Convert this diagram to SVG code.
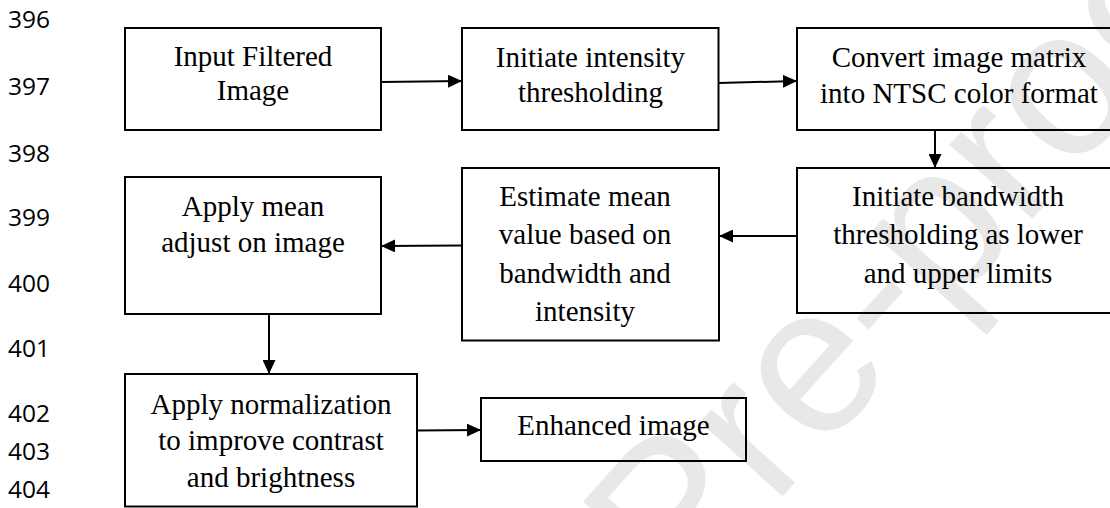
<svg xmlns="http://www.w3.org/2000/svg" width="1110" height="508" viewBox="0 0 1110 508">
<style>
.bg{fill:#ffffff}
.box{fill:none;stroke:#000;stroke-width:2}
.lbl{font-family:"Liberation Serif","Times New Roman",serif;font-size:29px;fill:#000;text-anchor:middle}
.num{font-family:"Open Sans","Liberation Sans",sans-serif;font-size:24.5px;fill:#000}
.wm{font-family:"Liberation Sans",Arial,sans-serif;font-size:210px;fill:#e8e8e8}
.conn{fill:none;stroke:#000;stroke-width:2}
</style>
<defs>
<marker id="ah" markerUnits="userSpaceOnUse" markerWidth="14" markerHeight="13" refX="14" refY="6.5" orient="auto">
<path d="M0,0 L14,6.5 L0,13 Z" fill="#000"/>
</marker>
</defs>
<rect class="bg" x="0" y="0" width="1110" height="508"/>
<text class="wm" transform="translate(679,611) rotate(-48)">Pre-proof</text>
<g id="line-numbers">
<text class="num" x="8" y="28.3">396</text>
<text class="num" x="8" y="95">397</text>
<text class="num" x="8" y="161.7">398</text>
<text class="num" x="8" y="226">399</text>
<text class="num" x="8" y="291.7">400</text>
<text class="num" x="8" y="356.7">401</text>
<text class="num" x="8" y="421.7">402</text>
<text class="num" x="8" y="460">403</text>
<text class="num" x="8" y="498.3">404</text>
</g>
<g id="connectors">
<line class="conn" x1="381" y1="82" x2="462" y2="81" marker-end="url(#ah)"/>
<line class="conn" x1="718.5" y1="83" x2="797" y2="81" marker-end="url(#ah)"/>
<line class="conn" x1="935" y1="130" x2="935" y2="168" marker-end="url(#ah)"/>
<line class="conn" x1="797" y1="236" x2="719" y2="236" marker-end="url(#ah)"/>
<line class="conn" x1="462" y1="245.5" x2="381" y2="246" marker-end="url(#ah)"/>
<line class="conn" x1="269" y1="314" x2="269" y2="374" marker-end="url(#ah)"/>
<line class="conn" x1="417" y1="430.5" x2="481" y2="430" marker-end="url(#ah)"/>
</g>
<g id="n1">
<rect class="box" x="125" y="28" width="256" height="102"/>
<text class="lbl" x="253" y="66">Input Filtered</text>
<text class="lbl" x="253" y="100">Image</text>
</g>
<g id="n2">
<rect class="box" x="462" y="28" width="256.5" height="102"/>
<text class="lbl" x="590.5" y="67">Initiate intensity</text>
<text class="lbl" x="590.5" y="101.5">thresholding</text>
</g>
<g id="n3">
<rect class="box" x="797" y="28" width="324" height="102"/>
<text class="lbl" x="959" y="66.5">Convert image matrix</text>
<text class="lbl" x="959" y="102.5">into NTSC color format</text>
</g>
<g id="n4">
<rect class="box" x="797" y="168" width="324" height="145"/>
<text class="lbl" x="958" y="205.5">Initiate bandwidth</text>
<text class="lbl" x="958" y="244">thresholding as lower</text>
<text class="lbl" x="958" y="282.5">and upper limits</text>
</g>
<g id="n5">
<rect class="box" x="462" y="168" width="257" height="172.5"/>
<text class="lbl" x="585" y="205.5">Estimate mean</text>
<text class="lbl" x="585" y="244">value based on</text>
<text class="lbl" x="585" y="282.5">bandwidth and</text>
<text class="lbl" x="585" y="321">intensity</text>
</g>
<g id="n6">
<rect class="box" x="125" y="177" width="256" height="137"/>
<text class="lbl" x="253" y="216">Apply mean</text>
<text class="lbl" x="253" y="251.5">adjust on image</text>
</g>
<g id="n7">
<rect class="box" x="125" y="374" width="292" height="132.5"/>
<text class="lbl" x="271" y="413.5">Apply normalization</text>
<text class="lbl" x="271" y="450">to improve contrast</text>
<text class="lbl" x="271" y="486.5">and brightness</text>
</g>
<g id="n8">
<rect class="box" x="481" y="398" width="265" height="63"/>
<text class="lbl" x="613.5" y="435">Enhanced image</text>
</g>
</svg>
